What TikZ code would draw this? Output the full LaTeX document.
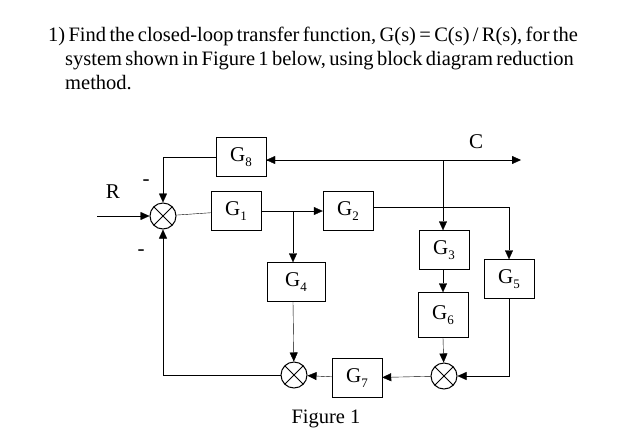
\documentclass[tikz,border=0pt]{standalone}
\usepackage{fontspec}
\setmainfont{Liberation Serif}
\usetikzlibrary{arrows.meta}
\newcommand{\bigf}{\fontsize{21}{21}\selectfont}
\newcommand{\gsub}[1]{G\raisebox{-5pt}{\fontsize{13}{13}\selectfont #1}}
\begin{document}
\begin{tikzpicture}[x=1pt,y=-1pt,
  blk/.style={draw,minimum width=50pt,minimum height=39pt,inner sep=0pt},
  sum/.style={draw,line width=1pt,circle,minimum size=26pt,inner sep=0pt,path picture={\draw (path picture bounding box.north west)--(path picture bounding box.south east) (path picture bounding box.north east)--(path picture bounding box.south west);}},
  ar/.style={-{Triangle[length=9pt,width=8pt]}}]
\useasboundingbox (0,0) rectangle (640,445);
\node[anchor=north west,text width=541pt,inner sep=0pt] (t) at (48,27)
 {\fontsize{20.5}{24}\selectfont\hangindent=17pt\hangafter=1 1) Find the closed-loop transfer function, G(s) = C(s) / R(s), for the system shown in Figure 1 below, using block diagram reduction method.\par};
\node[sum] (s1) at (163,216) {};
\node[blk] (g8) at (241,157) {\bigf\gsub{8}};
\node[blk] (g1) at (236,211) {\bigf\gsub{1}};
\node[blk] (g2) at (348,211) {\bigf\gsub{2}};
\node[blk,minimum width=58pt] (g4) at (296,282) {\bigf\gsub{4}};
\node[blk] (g3) at (444,250) {\bigf\gsub{3}};
\node[blk,minimum height=45pt] (g6) at (443,315) {\bigf\gsub{6}};
\node[blk] (g5) at (509,279) {\bigf\gsub{5}};
\node[sum] (s2) at (294,375) {};
\node[sum] (s3) at (444,376) {};
\node[blk] (g7) at (357,378) {\bigf\gsub{7}};
\node (R) at (113,192) {\bigf R};
\node (C) at (476,142) {\bigf C};
\node (m1) at (146,183) {\bigf -};
\node (m2) at (141,253) {\bigf -};
\node (fig) at (326,419) {\fontsize{20.5}{21}\selectfont Figure 1};
\coordinate (in) at (97,216);
\coordinate (bc) at (443,160);
\coordinate (cout) at (521,160);
\coordinate (b1) at (293,211);
\coordinate (b2) at (509,207);
\draw[ar] (in) -- (s1);
\draw (s1) -- (g1);
\draw[ar] (g1) -- (g2);
\draw[ar] (b1) -- (g4.north -| b1);
\draw[ar] (g4.south -| b1) -- (s2);
\draw[ar] (g8.east |- bc) -- (cout);
\draw[ar] (bc) -- (g8.east |- bc);
\draw[ar] (bc) -- (g3.north -| bc);
\draw[ar] (g2.east |- b2) -- (b2) -- (g5.north);
\draw[ar] (g3.south -| bc) -- (g6.north -| bc);
\draw[ar] (g6.south -| bc) -- (s3);
\draw[ar] (g5.south) |- (s3);
\draw[ar] (s3) -- (g7);
\draw[ar] (g7) -- (s2);
\draw[ar] (s2) -| (s1);
\draw[ar] (g8.west) -| (s1);
\end{tikzpicture}
\end{document}
